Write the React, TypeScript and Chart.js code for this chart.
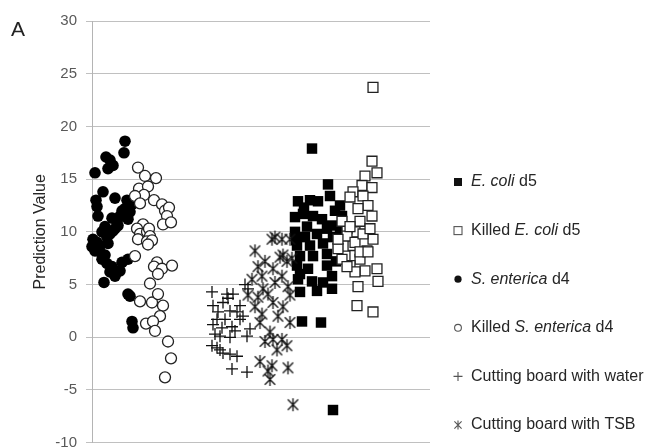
import React, { useEffect, useRef } from 'react';
import { Chart, registerables } from 'chart.js';

Chart.register(...registerables);

// ---- Data (x = sample position along the plot, y = prediction value) ----
const sentericaX = [3, 14, 18, 16, 21, 33, 32, 4, 5, 6, 11, 23, 35, 33, 38, 36, 28, 25, 26, 23, 13, 10, 1, 0, 5, 8, 15, 16, 18, 21, 8, 10, 15, 20, 18, 23, 28, 30, 36, 12, 36, 38, 40, 41, 30, 40, 20, 3, 13];
const sentericaY = [15.6, 17.1, 16.8, 16.0, 16.3, 18.6, 17.5, 13.0, 12.4, 11.5, 13.8, 13.2, 13.0, 12.2, 11.9, 11.2, 11.5, 11.0, 10.6, 10.3, 10.5, 10.0, 9.3, 8.6, 9.0, 8.7, 9.5, 8.9, 9.8, 10.1, 8.1, 7.4, 7.0, 6.7, 6.2, 5.8, 6.3, 7.1, 7.4, 5.2, 4.1, 3.9, 1.5, 0.9, 12.0, 12.6, 11.3, 8.2, 7.8];

const killedSentericaX = [46, 53, 64, 47, 56, 52, 43, 48, 62, 70, 73, 77, 75, 71, 79, 51, 45, 48, 55, 57, 58, 46, 55, 60, 56, 43, 65, 62, 70, 80, 66, 58, 48, 60, 66, 71, 68, 54, 61, 63, 76, 79, 73];
const killedSentericaY = [16.1, 15.3, 15.1, 14.1, 14.3, 13.5, 13.4, 12.7, 13.0, 12.6, 12.0, 12.3, 11.5, 10.7, 10.9, 10.7, 10.3, 9.8, 10.0, 10.3, 9.6, 9.3, 9.1, 9.2, 8.8, 7.7, 7.1, 6.7, 6.5, 6.8, 6.0, 5.1, 3.4, 3.3, 4.1, 3.0, 2.0, 1.3, 1.5, 0.6, -0.4, -2.0, -3.8];

const ecoliX = [220, 236, 238, 206, 218, 226, 243, 203, 211, 221, 230, 215, 235, 240, 225, 241, 205, 218, 231, 208, 221, 235, 205, 216, 235, 240, 206, 220, 231, 208, 225, 240, 210, 229, 241, 248, 246, 250, 213, 203, 212, 244, 248, 204, 208];
const ecoliY = [17.9, 14.5, 13.4, 12.9, 13.0, 12.9, 12.0, 11.4, 11.7, 11.5, 11.2, 10.5, 10.3, 10.6, 9.8, 9.5, 8.7, 8.7, 8.9, 7.7, 7.7, 7.9, 6.8, 6.5, 6.8, 5.8, 5.5, 5.3, 5.2, 4.3, 4.4, 4.6, 1.5, 1.4, -6.9, 10.0, 8.5, 11.5, 9.5, 10.0, 12.3, 7.2, 12.5, 9.2, 6.0];

const killedEcoliX = [281, 280, 285, 273, 270, 280, 261, 258, 271, 276, 266, 280, 268, 281, 263, 255, 275, 261, 253, 268, 258, 285, 273, 263, 286, 266, 265, 281, 250, 255, 246, 250, 255, 246, 258, 263, 268, 276, 271, 278];
const killedEcoliY = [23.7, 16.7, 15.6, 15.3, 14.4, 14.2, 13.8, 13.3, 13.4, 12.5, 12.2, 11.5, 11.0, 9.3, 10.0, 10.3, 8.2, 8.7, 7.7, 7.4, 6.8, 6.5, 6.3, 6.2, 5.3, 4.8, 3.0, 2.4, 11.0, 9.6, 8.4, 7.4, 6.7, 9.3, 10.5, 9.0, 8.1, 8.1, 9.8, 10.3];

const waterX = [120, 135, 141, 121, 131, 148, 156, 153, 138, 145, 125, 133, 148, 121, 130, 140, 158, 123, 128, 155, 138, 120, 125, 131, 138, 145, 128, 140, 155, 151, 126, 136, 143];
const waterY = [4.3, 4.1, 4.1, 3.0, 3.3, 3.0, 4.6, 5.0, 2.5, 2.4, 1.7, 1.7, 1.7, 1.2, 0.9, 1.0, 0.8, 0.3, 0.1, 0.1, 0.0, -0.8, -1.0, -1.5, -1.6, -1.8, -1.2, -3.0, -3.3, 2.0, 2.4, 3.7, 0.6];

const tsbX = [183, 190, 198, 180, 163, 188, 195, 166, 181, 170, 160, 190, 183, 171, 196, 166, 176, 181, 163, 191, 170, 186, 198, 168, 178, 173, 181, 190, 195, 185, 168, 180, 176, 178, 196, 201, 200, 191, 173, 156, 198];
const tsbY = [9.5, 9.3, 9.3, 9.3, 8.2, 7.6, 7.2, 6.7, 6.5, 5.8, 5.5, 5.8, 5.2, 4.6, 4.8, 3.8, 4.1, 3.3, 2.9, 2.9, 2.2, 2.0, 1.4, 1.4, 0.5, -0.4, -0.2, -0.2, -0.8, -1.2, -2.3, -2.7, -3.2, -4.0, -2.9, -6.4, 7.5, 7.8, 7.2, 4.0, 4.0];

const yTicks = [-10, -5, 0, 5, 10, 15, 20, 25, 30];

const legendItems: { marker: string; parts: [string, boolean][] }[] = [
  { marker: 'fsquare', parts: [['E. coli', true], [' d5', false]] },
  { marker: 'osquare', parts: [['Killed ', false], ['E. coli', true], [' d5', false]] },
  { marker: 'fcircle', parts: [['S. enterica', true], [' d4', false]] },
  { marker: 'ocircle', parts: [['Killed ', false], ['S. enterica', true], [' d4', false]] },
  { marker: 'plus', parts: [['Cutting board with water', false]] },
  { marker: 'asterisk', parts: [['Cutting board with TSB', false]] },
];

const FONT = '"Liberation Sans", Arial, sans-serif';
const CANVAS_W = 651;
const CANVAS_H = 451;
const VIEW_H = 447;

function toPoints(xs: number[], ys: number[]) {
  return xs.map((x, i) => ({ x, y: ys[i] }));
}

function drawAsteriskPath(ctx: CanvasRenderingContext2D, cx: number, cy: number, r: number) {
  const d = r * 0.8;
  ctx.beginPath();
  ctx.moveTo(cx, cy - r);
  ctx.lineTo(cx, cy + r);
  ctx.moveTo(cx - d, cy - d);
  ctx.lineTo(cx + d, cy + d);
  ctx.moveTo(cx - d, cy + d);
  ctx.lineTo(cx + d, cy - d);
  ctx.stroke();
}

function makeAsterisk(size: number, lw: number) {
  const c = document.createElement('canvas');
  c.width = size;
  c.height = size;
  const ctx = c.getContext('2d')!;
  ctx.strokeStyle = '#111';
  ctx.lineWidth = lw;
  drawAsteriskPath(ctx, size / 2, size / 2, size / 2 - 1);
  return c;
}

const overlayPlugin = {
  id: 'overlay',
  afterDraw(chart: any) {
    const ctx: CanvasRenderingContext2D = chart.ctx;
    ctx.save();
    ctx.fillStyle = '#222';
    ctx.textBaseline = 'middle';
    ctx.textAlign = 'left';
    ctx.font = `21px ${FONT}`;
    ctx.fillText('A', 11, 30);

    const mx = 458;
    const top = 182;
    const gap = 48.6;
    legendItems.forEach((item, i) => {
      const y = top + i * gap;
      ctx.strokeStyle = '#111';
      ctx.fillStyle = '#111';
      ctx.lineWidth = 1.1;
      switch (item.marker) {
        case 'fsquare':
          ctx.fillRect(mx - 4, y - 4, 8, 8);
          break;
        case 'osquare':
          ctx.fillStyle = '#fff';
          ctx.fillRect(mx - 4, y - 4, 8, 8);
          ctx.strokeStyle = '#555';
          ctx.strokeRect(mx - 4, y - 4, 8, 8);
          break;
        case 'fcircle':
          ctx.beginPath();
          ctx.arc(mx, y, 3.6, 0, Math.PI * 2);
          ctx.fill();
          break;
        case 'ocircle':
          ctx.strokeStyle = '#555';
          ctx.beginPath();
          ctx.arc(mx, y, 3.4, 0, Math.PI * 2);
          ctx.stroke();
          break;
        case 'plus':
          ctx.strokeStyle = '#555';
          ctx.beginPath();
          ctx.moveTo(mx - 4.5, y);
          ctx.lineTo(mx + 4.5, y);
          ctx.moveTo(mx, y - 4.5);
          ctx.lineTo(mx, y + 4.5);
          ctx.stroke();
          break;
        case 'asterisk':
          ctx.strokeStyle = '#555';
          drawAsteriskPath(ctx, mx, y, 4.5);
          break;
      }
      let x = 471;
      ctx.fillStyle = '#262626';
      item.parts.forEach(([txt, italic]) => {
        ctx.font = `${italic ? 'italic ' : ''}16px ${FONT}`;
        ctx.fillText(txt, x, y);
        x += ctx.measureText(txt).width;
      });
    });
    ctx.restore();
  },
};

export default function App() {
  const canvasRef = useRef<HTMLCanvasElement | null>(null);

  useEffect(() => {
    document.body.style.margin = '0';
    document.body.style.overflow = 'hidden';
    const canvas = canvasRef.current;
    if (!canvas) return;
    const asterisk = makeAsterisk(15, 1.3);

    const chart = new Chart(canvas, {
      type: 'scatter',
      data: {
        datasets: [
          {
            label: 'E. coli d5',
            data: toPoints(ecoliX, ecoliY),
            pointStyle: 'rect',
            pointRadius: 7.4,
            backgroundColor: '#000',
            borderColor: '#000',
            borderWidth: 0,
            order: 6,
            clip: false,
          },
          {
            label: 'Killed E. coli d5',
            data: toPoints(killedEcoliX, killedEcoliY),
            pointStyle: 'rect',
            pointRadius: 7,
            backgroundColor: '#fff',
            borderColor: '#222',
            borderWidth: 1.3,
            order: 1,
            clip: false,
          },
          {
            label: 'S. enterica d4',
            data: toPoints(sentericaX, sentericaY),
            pointStyle: 'circle',
            pointRadius: 5.8,
            backgroundColor: '#000',
            borderColor: '#000',
            borderWidth: 0,
            order: 5,
            clip: false,
          },
          {
            label: 'Killed S. enterica d4',
            data: toPoints(killedSentericaX, killedSentericaY),
            pointStyle: 'circle',
            pointRadius: 5.5,
            backgroundColor: '#fff',
            borderColor: '#222',
            borderWidth: 1.3,
            order: 2,
            clip: false,
          },
          {
            label: 'Cutting board with water',
            data: toPoints(waterX, waterY),
            pointStyle: 'cross',
            pointRadius: 6,
            backgroundColor: '#111',
            borderColor: '#111',
            borderWidth: 1.3,
            order: 4,
            clip: false,
          },
          {
            label: 'Cutting board with TSB',
            data: toPoints(tsbX, tsbY),
            pointStyle: asterisk as any,
            pointRadius: 7,
            backgroundColor: '#111',
            borderColor: '#111',
            order: 3,
            clip: false,
          },
        ],
      },
      options: {
        animation: false,
        responsive: false,
        devicePixelRatio: 1,
        layout: { padding: { left: 0, top: 21, right: 221, bottom: 0 } },
        plugins: {
          legend: { display: false },
          tooltip: { enabled: false },
        },
        scales: {
          x: {
            type: 'linear',
            display: false,
            min: 0,
            max: 338,
            ticks: { display: false },
            grid: { display: false, drawTicks: false },
            border: { display: false },
          },
          y: {
            type: 'linear',
            min: -10,
            max: 30,
            afterBuildTicks: (scale: any) => {
              scale.ticks = yTicks.map((v) => ({ value: v }));
            },
            afterFit: (scale: any) => {
              scale.width = 92;
              scale.paddingTop = 0;
              scale.paddingBottom = 0;
            },
            grid: {
              color: '#c0c0c0',
              lineWidth: 1,
              tickLength: 6,
            },
            border: { display: true, color: '#b4b4b4', width: 1 },
            ticks: {
              padding: 9,
              color: '#595959',
              font: { family: FONT, size: 15 },
            },
            title: {
              display: true,
              text: 'Prediction Value',
              color: '#262626',
              font: { family: FONT, size: 16 },
              padding: { top: 31, bottom: 0 },
            },
          },
        },
      },
      plugins: [overlayPlugin],
    });
    return () => chart.destroy();
  }, []);

  return (
    <div style={{ width: CANVAS_W + 'px', height: VIEW_H + 'px', overflow: 'hidden' }}>
      <canvas
        ref={canvasRef}
        width={CANVAS_W}
        height={CANVAS_H}
        style={{ display: 'block', width: CANVAS_W + 'px', height: CANVAS_H + 'px' }}
      />
    </div>
  );
}
